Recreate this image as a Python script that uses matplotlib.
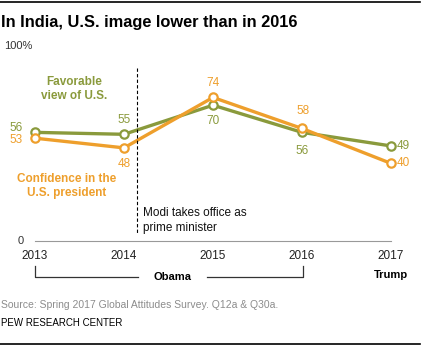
import matplotlib.pyplot as plt
import matplotlib.lines as mlines

# Survey results, India
years = [2013, 2014, 2015, 2016, 2017]
favorable = [56, 55, 70, 56, 49]
confidence = [53, 48, 74, 58, 40]
year_labels = ['2013', '2014', '2015', '2016', '2017']

OLIVE = '#8a9a3c'
ORANGE = '#ee9f2c'
W, H = 422, 347

plt.rcParams['font.family'] = ['Liberation Sans Narrow', 'Liberation Sans', 'DejaVu Sans']

fig = plt.figure(figsize=(W / 100, H / 100), dpi=100)
fig.patch.set_facecolor('white')


def px(x, y):
    return x / W, 1 - y / H


def ftext(x, y, s, **kw):
    fig.text(*px(x, y), s, **kw)


# plot area: 2013..2017 spans x 35..391, 0..100 spans y 241..47
ax = fig.add_axes([35 / W, (H - 241) / H, 356 / W, 194 / H])
ax.set_xlim(2013, 2017)
ax.set_ylim(0, 100)
ax.axis('off')

ax.axhline(0, color='#999999', lw=0.8, clip_on=False)

ax.plot(years, favorable, color=OLIVE, lw=2.4, marker='o', ms=6,
        mfc='white', mec=OLIVE, mew=1.6, clip_on=False, zorder=3)
ax.plot(years, confidence, color=ORANGE, lw=2.4, marker='o', ms=6,
        mfc='white', mec=ORANGE, mew=1.6, clip_on=False, zorder=4)

# value labels
fs = 8.5
ax.annotate(str(favorable[0]), (years[0], favorable[0]), xytext=(-9, 3),
            textcoords='offset points', ha='right', va='center', color=OLIVE, fontsize=fs)
ax.annotate(str(confidence[0]), (years[0], confidence[0]), xytext=(-9, -1),
            textcoords='offset points', ha='right', va='center', color=ORANGE, fontsize=fs)
ax.annotate(str(favorable[1]), (years[1], favorable[1]), xytext=(0, 6),
            textcoords='offset points', ha='center', va='bottom', color=OLIVE, fontsize=fs)
ax.annotate(str(confidence[1]), (years[1], confidence[1]), xytext=(0, -7),
            textcoords='offset points', ha='center', va='top', color=ORANGE, fontsize=fs)
ax.annotate(str(confidence[2]), (years[2], confidence[2]), xytext=(0, 6),
            textcoords='offset points', ha='center', va='bottom', color=ORANGE, fontsize=fs)
ax.annotate(str(favorable[2]), (years[2], favorable[2]), xytext=(0, -7),
            textcoords='offset points', ha='center', va='top', color=OLIVE, fontsize=fs)
ax.annotate(str(confidence[3]), (years[3], confidence[3]), xytext=(1, 8),
            textcoords='offset points', ha='center', va='bottom', color=ORANGE, fontsize=fs)
ax.annotate(str(favorable[3]), (years[3], favorable[3]), xytext=(0, -9),
            textcoords='offset points', ha='center', va='top', color=OLIVE, fontsize=fs)
ax.annotate(str(favorable[4]), (years[4], favorable[4]), xytext=(4, 0),
            textcoords='offset points', ha='left', va='center', color=OLIVE, fontsize=fs)
ax.annotate(str(confidence[4]), (years[4], confidence[4]), xytext=(4, 0),
            textcoords='offset points', ha='left', va='center', color=ORANGE, fontsize=fs)

# frame lines
fig.add_artist(mlines.Line2D([0, 420 / W], [1 - 2 / H] * 2, color='black', lw=1.2))
fig.add_artist(mlines.Line2D([0, 420 / W], [1 - 344 / H] * 2, color='black', lw=1.2))

# title and axis labels
ftext(1, 22, 'In India, U.S. image lower than in 2016', fontsize=11.8,
      fontweight='bold', va='center', ha='left')
ftext(4, 46, '100%', fontsize=8, va='center', ha='left', color='#333333')
ftext(21, 241, '0', fontsize=8, va='center', ha='center', color='#333333')
for yr, lab in zip(years, year_labels):
    ax.text(yr, -7.8, lab, ha='center', va='center', fontsize=8.5, color='#222222')

# series labels
ftext(74, 82, 'Favorable', color=OLIVE, fontsize=8.5, fontweight='bold', ha='center', va='center')
ftext(74, 96, 'view of U.S.', color=OLIVE, fontsize=8.5, fontweight='bold', ha='center', va='center')
ftext(67, 179, 'Confidence in the', color=ORANGE, fontsize=8.5, fontweight='bold', ha='center', va='center')
ftext(67, 193, 'U.S. president', color=ORANGE, fontsize=8.5, fontweight='bold', ha='center', va='center')

# Modi marker
fig.add_artist(mlines.Line2D([137 / W] * 2, [1 - 68 / H, 1 - 233 / H],
                             color='black', lw=0.8, ls=(0, (3, 2))))
ftext(143, 213, 'Modi takes office as', fontsize=8.5, ha='left', va='center', color='#111111')
ftext(143, 228, 'prime minister', fontsize=8.5, ha='left', va='center', color='#111111')

# administration brackets
br = dict(color='#333333', lw=0.9)
fig.add_artist(mlines.Line2D([35 / W, 35 / W, 138 / W], [1 - 266 / H, 1 - 277 / H, 1 - 277 / H], **br))
fig.add_artist(mlines.Line2D([207 / W, 303 / W, 303 / W], [1 - 277 / H, 1 - 277 / H, 1 - 266 / H], **br))
ftext(172, 277, 'Obama', fontsize=8, fontweight='bold', ha='center', va='center')
ftext(391, 275, 'Trump', fontsize=8, fontweight='bold', ha='center', va='center')

# footer
ftext(1, 305, 'Source: Spring 2017 Global Attitudes Survey. Q12a & Q30a.',
      fontsize=7.5, color='#8c8c8c', ha='left', va='center')
ftext(1, 323, 'PEW RESEARCH CENTER', fontsize=7, color='black', ha='left', va='center')

fig.savefig('out.png', dpi=100, facecolor='white')
